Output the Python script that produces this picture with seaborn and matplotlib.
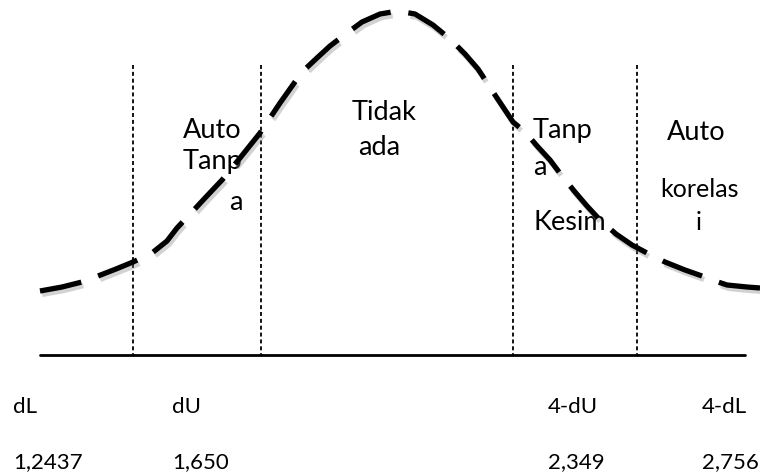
import numpy as np
import pandas as pd
import matplotlib
matplotlib.use("Agg")
import matplotlib.pyplot as plt
import matplotlib.patheffects as pe
import seaborn as sns

# curve (pixel coords, y grows downward)
curve_x = [40, 62, 82, 98, 116, 133, 152, 167, 177, 192, 205, 222, 240, 260, 280,
           302, 318, 330, 347, 362, 380, 398, 415, 433, 450, 465, 478, 495, 513,
           525, 538, 550, 562, 575, 587, 600, 616, 632, 647, 665, 685, 702, 715,
           727, 747, 760]
curve_y = [291, 287, 282, 276, 269, 262, 253, 241, 228, 212, 198, 180, 158, 133, 103,
           72, 57, 46, 33, 22, 14, 11, 14, 25, 39, 54, 69, 95, 122,
           132, 147, 160, 176, 192, 206, 220, 234, 245, 253, 262, 270, 276, 281,
           285, 287, 288]

# boundaries dL, dU, 4-dU, 4-dL
boundary_x = [133, 261, 513, 637]
bound_names = ["dL", "dU", "4-dU", "4-dL"]
bound_values = ["1,2437", "1,650", "2,349", "2,756"]
label_x = [13, 172, 548, 702]

# (text, x, baseline y, size)
region_text = [
    ("Auto", 183, 138, 19.5), ("Tanp", 183, 169, 19.5), ("a", 229, 210, 19.5),
    ("Tidak", 352, 120, 19.5), ("ada", 358, 155, 19.5),
    ("Tanp", 533, 138, 19.5), ("a", 533, 175, 19.5), ("Kesim", 533, 230, 19.5),
    ("Auto", 667, 140, 19.5), ("korelas", 660, 197, 18), ("i", 696, 230, 18),
]

sns.set_style("white")
plt.rcParams['font.family'] = ['Lato', 'DejaVu Sans']

fig = plt.figure(figsize=(7.6, 4.75), dpi=100)
ax = fig.add_axes([0, 0, 1, 1])

df = pd.DataFrame({'x': curve_x, 'y': curve_y})

# region text sits under the curve
for txt, tx, ty, fs in region_text:
    ax.text(tx, ty, txt, fontsize=fs, va='baseline', ha='left', color='black', zorder=1)

# dotted boundaries
for bx in boundary_x:
    ax.plot([bx, bx], [65, 355], color='black', lw=1.3, linestyle=(0, (2.2, 1.6)), zorder=2)

# base line
ax.plot([40, 745], [355, 355], color='black', lw=2, zorder=2)

sns.lineplot(data=df, x='x', y='y', sort=False, ax=ax, color='black', lw=3.8, zorder=3)
line = ax.lines[-1]
line.set_dashes([8, 3.4])
line.set_dash_capstyle('butt')
line.set_path_effects([pe.SimpleLineShadow(offset=(1.5, -2.5), shadow_color='gray', alpha=0.35),
                       pe.Normal()])

for name, val, lx in zip(bound_names, bound_values, label_x):
    ax.text(lx, 413, name, fontsize=16, va='baseline', ha='left', color='black')
    ax.text(lx, 468, val, fontsize=16, va='baseline', ha='left', color='black')

ax.set_xlim(0, 760)
ax.set_ylim(475, 0)
ax.axis('off')

plt.savefig("out.png", dpi=100)
